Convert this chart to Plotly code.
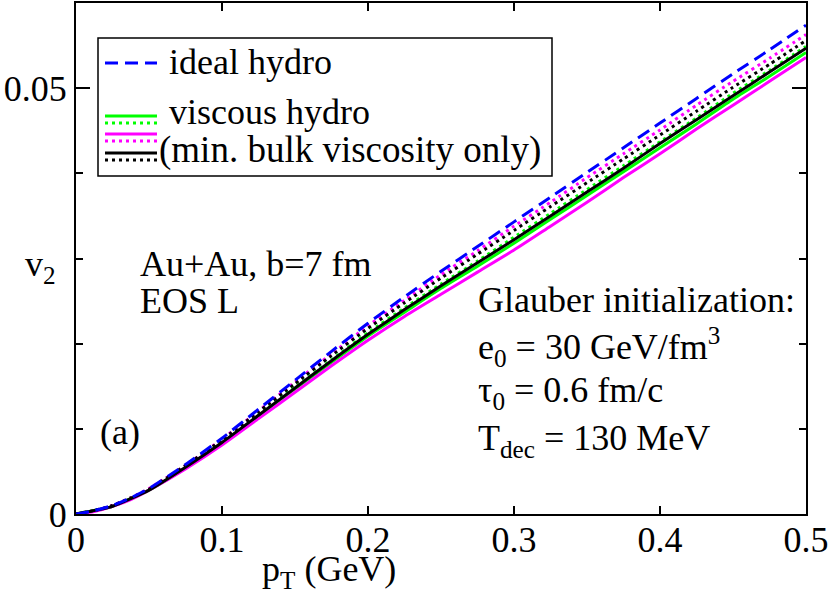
import plotly.graph_objects as go

# ---- data ----
pt = [0, 0.0125, 0.025, 0.0375, 0.05, 0.075, 0.10, 0.125, 0.15, 0.175, 0.20, 0.225, 0.25, 0.275, 0.30,
      0.325, 0.35, 0.375, 0.40, 0.425, 0.45, 0.475, 0.50]

v2_ideal = [0, 0.0004, 0.0010, 0.0019, 0.0030, 0.0058, 0.0089, 0.0123, 0.0157, 0.0191, 0.0224, 0.0255, 0.0285,
            0.0314, 0.0343, 0.0372, 0.0401, 0.0430, 0.0459, 0.0488, 0.0517, 0.0545, 0.0574]
v2_green_solid = [0, 0.0004, 0.0009, 0.0018, 0.0028, 0.0054, 0.0083, 0.0115, 0.0147, 0.0178, 0.0209, 0.0237, 0.0265,
                  0.0291, 0.0318, 0.0346, 0.0374, 0.0402, 0.0430, 0.0458, 0.0487, 0.0514, 0.0542]
v2_green_dot = [0, 0.0004, 0.0009, 0.0018, 0.0029, 0.0055, 0.0085, 0.0117, 0.0149, 0.0181, 0.0213, 0.0242, 0.0270,
                0.0297, 0.0325, 0.0353, 0.0381, 0.0409, 0.0437, 0.0465, 0.0494, 0.0521, 0.0549]
v2_mag_solid = [0, 0.0003, 0.0009, 0.0017, 0.0028, 0.0053, 0.0081, 0.0112, 0.0143, 0.0174, 0.0204, 0.0232, 0.0258,
                0.0284, 0.0310, 0.0338, 0.0366, 0.0395, 0.0423, 0.0452, 0.0480, 0.0508, 0.0536]
v2_mag_dot = [0, 0.0004, 0.0010, 0.0019, 0.0030, 0.0057, 0.0088, 0.0121, 0.0155, 0.0188, 0.0221, 0.0251, 0.0281,
              0.0309, 0.0338, 0.0366, 0.0395, 0.0423, 0.0451, 0.0480, 0.0508, 0.0535, 0.0563]
v2_black_solid = [0, 0.0004, 0.0009, 0.0018, 0.0028, 0.0055, 0.0084, 0.0116, 0.0148, 0.0180, 0.0211, 0.0240, 0.0268,
                  0.0295, 0.0322, 0.0350, 0.0378, 0.0406, 0.0435, 0.0463, 0.0491, 0.0519, 0.0547]
v2_black_dot = [0, 0.0004, 0.0010, 0.0019, 0.0029, 0.0057, 0.0087, 0.0120, 0.0153, 0.0186, 0.0218, 0.0248, 0.0277,
                0.0305, 0.0333, 0.0361, 0.0389, 0.0417, 0.0445, 0.0473, 0.0501, 0.0528, 0.0556]

x_ticks = [0, 0.1, 0.2, 0.3, 0.4, 0.5]
x_tick_labels = ["0", "0.1", "0.2", "0.3", "0.4", "0.5"]
y_ticks = [0, 0.05]
y_tick_labels = ["0", "0.05"]

BLUE = "#0000ff"
GREEN = "#00ff00"
MAG = "#ff00ff"
BLACK = "#000000"
FONT = "Liberation Serif, Times New Roman, serif"
FS = 36

DOT = "3px,4px"
DASH = "13px,7px"

fig = go.Figure()

series = [
    (v2_green_solid, GREEN, "solid"),
    (v2_green_dot, GREEN, DOT),
    (v2_mag_solid, MAG, "solid"),
    (v2_mag_dot, MAG, DOT),
    (v2_black_solid, BLACK, "solid"),
    (v2_black_dot, BLACK, DOT),
    (v2_ideal, BLUE, DASH),
]
for ys, col, dash in series:
    fig.add_trace(go.Scatter(x=pt, y=ys, mode="lines", showlegend=False,
                             line=dict(color=col, width=3, dash=dash, shape="spline", smoothing=0.5),
                             hoverinfo="skip"))

# ---- manual legend (paper coords) ----
L, R, T, B = 76, 806, 3, 514
W, H = R - L, B - T
def px(x):
    return (x - L) / W
def py(y):
    return (B - y) / H

shapes = [dict(type="rect", xref="paper", yref="paper", x0=px(98), x1=px(552), y0=py(176), y1=py(38),
               line=dict(color="black", width=1.5), fillcolor="white", layer="above")]
samples = [(63, BLUE, DASH), (116, GREEN, "solid"), (123, GREEN, DOT), (134, MAG, "solid"),
           (141, MAG, DOT), (153, BLACK, "solid"), (160, BLACK, DOT)]
for yy, col, dash in samples:
    shapes.append(dict(type="line", xref="paper", yref="paper", x0=px(105), x1=px(157), y0=py(yy), y1=py(yy),
                       line=dict(color=col, width=3, dash=dash), layer="above"))

def ann(text, x, y, xanchor="left", size=FS):
    return dict(text=text, x=px(x), y=py(y), xref="paper", yref="paper", xanchor=xanchor, yanchor="middle",
                showarrow=False, font=dict(family=FONT, size=size, color="black"))

annotations = [
    ann("ideal hydro", 167, 62),
    ann("viscous hydro", 167, 112),
    ann("(min. bulk viscosity only)", 157, 150, size=37),
    ann("Au+Au, b=7 fm", 138, 264),
    ann("EOS L", 138, 301),
    ann("Glauber initialization:", 476, 300),
    ann("e<sub>0</sub> = 30 GeV/fm<sup>3</sup>", 476, 347),
    ann("τ<sub>0</sub> = 0.6 fm/c", 476, 392),
    ann("T<sub>dec</sub> = 130 MeV", 476, 440),
    ann("(a)", 98, 432),
    ann("v<sub>2</sub>", 23, 266),
    ann("p<sub>T</sub> (GeV)", 260, 571),
]

fig.update_layout(
    width=830, height=594,
    margin=dict(l=L, r=830 - R, t=T, b=594 - B),
    plot_bgcolor="white", paper_bgcolor="white",
    font=dict(family=FONT, size=FS, color="black"),
    shapes=shapes, annotations=annotations,
    xaxis=dict(range=[0, 0.5], tickvals=x_ticks, ticktext=x_tick_labels, ticks="inside", ticklen=8,
               tickwidth=1.5, tickcolor="black", showline=True, linecolor="black", linewidth=2, mirror="ticks",
               showgrid=False, zeroline=False, tickfont=dict(family=FONT, size=FS), automargin=False,
               ticklabelstandoff=-7),
    yaxis=dict(range=[0, 0.06], tickvals=y_ticks, ticktext=y_tick_labels, ticks="inside", ticklen=14,
               tickwidth=1.5, tickcolor="black", showline=True, linecolor="black", linewidth=2, mirror="ticks",
               showgrid=False, zeroline=False, tickfont=dict(family=FONT, size=FS), automargin=False,
               minor=dict(dtick=0.01, tick0=0, ticks="inside", ticklen=7, tickwidth=1.5, tickcolor="black",
                          showgrid=False)),
)

fig.write_html("out.html", config={"displayModeBar": False},
               post_script="document.body.style.margin='0';document.body.style.overflow='hidden';")
